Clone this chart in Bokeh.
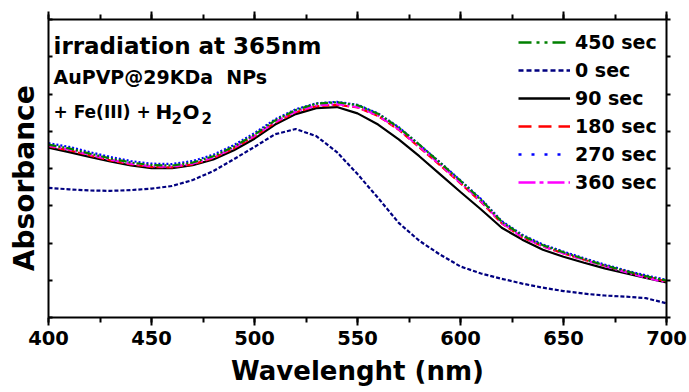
import math
from bokeh.plotting import figure
from bokeh.models import (LinearAxis, SingleIntervalTicker, FixedTicker, Legend, LegendItem,
                          Label, Range1d, CustomJSTickFormatter)
from bokeh.embed import file_html
from bokeh.resources import INLINE

# ---------------- data ----------------
wavelength = [400, 410, 420, 430, 440, 450, 460, 470, 480, 490, 500, 510, 520, 530, 540, 550,
              560, 570, 580, 590, 600, 610, 620, 630, 640, 650, 660, 670, 680, 690, 700]

abs_0s = [0.348, 0.344, 0.341, 0.340, 0.342, 0.346, 0.353, 0.369, 0.393, 0.425, 0.458, 0.492,
          0.506, 0.487, 0.444, 0.385, 0.321, 0.254, 0.206, 0.169, 0.137, 0.118, 0.104, 0.091,
          0.080, 0.071, 0.064, 0.059, 0.056, 0.052, 0.038]
abs_90s = [0.456, 0.444, 0.431, 0.419, 0.408, 0.401, 0.401, 0.409, 0.424, 0.449, 0.480, 0.518,
           0.546, 0.562, 0.565, 0.548, 0.518, 0.478, 0.433, 0.385, 0.337, 0.290, 0.241, 0.209,
           0.182, 0.163, 0.147, 0.132, 0.119, 0.106, 0.094]
abs_180s = [0.459, 0.449, 0.435, 0.422, 0.411, 0.404, 0.403, 0.411, 0.428, 0.454, 0.486, 0.523,
            0.551, 0.567, 0.571, 0.564, 0.541, 0.504, 0.457, 0.409, 0.360, 0.310, 0.253, 0.215,
            0.191, 0.172, 0.155, 0.139, 0.124, 0.110, 0.097]
abs_270s = [0.468, 0.458, 0.444, 0.431, 0.420, 0.413, 0.412, 0.420, 0.437, 0.463, 0.495, 0.532,
            0.559, 0.575, 0.579, 0.571, 0.548, 0.511, 0.464, 0.417, 0.368, 0.318, 0.259, 0.222,
            0.196, 0.177, 0.159, 0.142, 0.127, 0.113, 0.101]
abs_360s = [0.461, 0.451, 0.437, 0.424, 0.413, 0.406, 0.405, 0.413, 0.430, 0.456, 0.488, 0.525,
            0.553, 0.569, 0.573, 0.565, 0.542, 0.505, 0.459, 0.411, 0.362, 0.312, 0.254, 0.216,
            0.191, 0.172, 0.155, 0.138, 0.122, 0.107, 0.094]
abs_450s = [0.464, 0.454, 0.440, 0.427, 0.416, 0.409, 0.408, 0.416, 0.433, 0.459, 0.491, 0.529,
            0.557, 0.574, 0.578, 0.570, 0.547, 0.510, 0.464, 0.416, 0.367, 0.316, 0.257, 0.220,
            0.194, 0.175, 0.157, 0.140, 0.125, 0.111, 0.099]

series_labels = ["450 sec", "0 sec", "90 sec", "180 sec", "270 sec", "360 sec"]
series_values = {"450 sec": abs_450s, "0 sec": abs_0s, "90 sec": abs_90s,
                 "180 sec": abs_180s, "270 sec": abs_270s, "360 sec": abs_360s}
x_tick_step = 50
y_tick_step = 0.1

# ---------------- styles ----------------
FONT = "DejaVu Sans"
colors = {"450 sec": "#008000", "0 sec": "#000080", "90 sec": "#000000",
          "180 sec": "#ff0000", "270 sec": "#0000ff", "360 sec": "#ff00ff"}
plot_dash = {"450 sec": "8 2 2 2 2 2", "0 sec": "4 2", "90 sec": "solid",
             "180 sec": "7 3", "270 sec": "2 2", "360 sec": "8 3 2 3"}
legend_dash = {"450 sec": "13 5 3 5 3 5", "0 sec": "5 3", "90 sec": "solid",
               "180 sec": "13 7", "270 sec": "3 10", "360 sec": "17 4 4 4"}
draw_order = ["0 sec", "90 sec", "180 sec", "270 sec", "360 sec", "450 sec"]

p = figure(width=689, height=392, output_backend="svg", toolbar_location=None,
           x_range=Range1d(400, 700), y_range=Range1d(0, 0.8),
           min_border_left=48, min_border_right=23, min_border_top=19, min_border_bottom=75,
           x_axis_label="Wavelenght (nm)")
p.grid.visible = False
p.outline_line_color = None
p.background_fill_color = "white"
p.border_fill_color = "white"

blank = CustomJSTickFormatter(code="return ''")

# bottom axis
xa = p.xaxis[0]
xa.ticker = SingleIntervalTicker(interval=x_tick_step, num_minor_ticks=2)
xa.axis_line_width = 2
xa.major_tick_line_width = 2
xa.minor_tick_line_width = 2
xa.major_tick_in = 0
xa.major_tick_out = 8
xa.minor_tick_in = 0
xa.minor_tick_out = 5
xa.major_label_standoff = 5
xa.major_label_text_font = FONT
xa.major_label_text_font_style = "bold"
xa.major_label_text_font_size = "19.5px"
xa.major_label_text_color = "black"
xa.axis_label_text_font = FONT
xa.axis_label_text_font_style = "bold"
xa.axis_label_text_font_size = "26px"
xa.axis_label_standoff = 8
xa.axis_label_text_color = "black"

# left axis (ticks only)
ya = p.yaxis[0]
ya.ticker = SingleIntervalTicker(interval=y_tick_step, num_minor_ticks=0)
ya.formatter = blank
ya.axis_line_width = 2
ya.major_tick_line_width = 2
ya.major_tick_in = 4
ya.major_tick_out = 0
ya.minor_tick_in = 0
ya.minor_tick_out = 0
ya.major_label_text_font_size = "0px"
ya.major_label_standoff = 0

# left title axis: carries only the "Absorbance" title (two trailing no-break spaces
# move the centred word slightly below mid-frame, as in the reference)
ttl = LinearAxis(ticker=FixedTicker(ticks=[]), formatter=blank,
                 axis_line_color=None, major_tick_line_color=None, minor_tick_line_color=None,
                 major_label_text_font_size="0px", major_label_standoff=0,
                 major_tick_in=0, major_tick_out=0, minor_tick_in=0, minor_tick_out=0,
                 axis_label="Absorbance\u00a0\u00a0", axis_label_text_font=FONT,
                 axis_label_text_font_style="bold", axis_label_text_font_size="28px",
                 axis_label_text_color="black", axis_label_standoff=8)
p.add_layout(ttl, "left")

# top axis
ta = LinearAxis(ticker=SingleIntervalTicker(interval=x_tick_step, num_minor_ticks=2),
                formatter=blank, major_label_text_font_size="0px", major_label_standoff=0,
                axis_line_width=2, major_tick_line_width=2, minor_tick_line_width=2,
                major_tick_in=0, major_tick_out=8, minor_tick_in=0, minor_tick_out=5)
p.add_layout(ta, "above")

# right axis
ra = LinearAxis(ticker=SingleIntervalTicker(interval=y_tick_step, num_minor_ticks=0),
                formatter=blank, major_label_text_font_size="0px", major_label_standoff=0,
                axis_line_width=2, major_tick_line_width=2,
                major_tick_in=0, major_tick_out=4, minor_tick_in=0, minor_tick_out=0)
p.add_layout(ra, "right")

# curves
for name in draw_order:
    p.line(wavelength, series_values[name], line_color=colors[name],
           line_dash=plot_dash[name], line_width=2.2)

# legend (styled sample renderers that draw nothing in the plot)
items = []
for name in series_labels:
    r = p.line(x=[math.nan], y=[math.nan], line_color=colors[name],
               line_dash=legend_dash[name], line_width=2.5)
    items.append(LegendItem(label=name, renderers=[r]))
legend = Legend(items=items, location=(470, 124), padding=0, margin=0, spacing=6,
                glyph_width=52, glyph_height=22, label_height=22, label_standoff=5,
                label_text_font=FONT, label_text_font_style="bold",
                label_text_font_size="19px", label_text_color="black",
                border_line_color=None, background_fill_alpha=0)
p.add_layout(legend)

# annotation texts
def add_text(x, y, text, size):
    p.add_layout(Label(x=x, y=y, x_units="screen", y_units="screen", text=text,
                       text_font=FONT, text_font_style="bold", text_font_size=size,
                       text_color="black", text_baseline="alphabetic", text_align="left"))

add_text(5, 272, "irradiation at 365nm", "23px")
add_text(5, 241, "AuPVP@29KDa\u00a0 NPs", "19px")
add_text(5, 206, "+ Fe(III) + ", "17px")
add_text(107, 206, "H", "20px")
add_text(123, 200, "2", "15px")
add_text(134, 206, "O", "20px")
add_text(153, 200, "2", "15px")

open("out.html", "w").write(file_html(p, INLINE))
